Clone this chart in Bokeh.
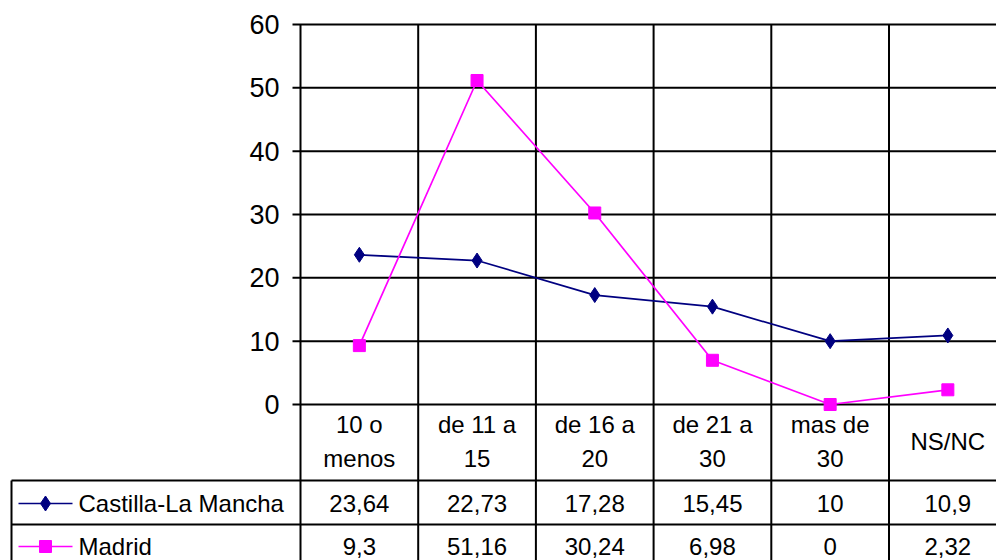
from bokeh.plotting import figure
from bokeh.models import Range1d
from bokeh.core.properties import value
from bokeh.embed import file_html
from bokeh.resources import INLINE

categories = ["10 o\nmenos", "de 11 a\n15", "de 16 a\n20", "de 21 a\n30", "mas de\n30", "NS/NC"]
series_names = ["Castilla-La Mancha", "Madrid"]
castilla = [23.64, 22.73, 17.28, 15.45, 10, 10.9]
madrid = [9.3, 51.16, 30.24, 6.98, 0, 2.32]
y_ticks = [0, 10, 20, 30, 40, 50, 60]
colors = ["#000080", "#FF00FF"]

FONT = value("Liberation Sans")
W, H = 996, 560
PX_X = 117.7     # pixels per category
PX_Y = 380 / 60  # pixels per unit
X0 = 300         # pixel of category axis start
Y0 = 404         # pixel of value 0

n = len(categories)
p = figure(width=W, height=H, output_backend="svg", toolbar_location=None,
           x_range=Range1d(-X0 / PX_X, (W - X0) / PX_X),
           y_range=Range1d(-(H - Y0) / PX_Y, Y0 / PX_Y),
           min_border=0, outline_line_color=None)
p.axis.visible = False
p.grid.visible = False
p.background_fill_color = "white"

def fmt(v):
    return ("%g" % v).replace(".", ",")

# table geometry (data units)
hdr_bottom = -(480 - Y0) / PX_Y
row1_bottom = -(524 - Y0) / PX_Y
row2_bottom = -(569 - Y0) / PX_Y
legend_left = -(X0 - 11) / PX_X
tick_len = 8 / PX_X

LW = 2
# horizontal grid lines with ticks
p.segment(x0=[-tick_len] * len(y_ticks), x1=[n] * len(y_ticks), y0=y_ticks, y1=y_ticks,
          line_color="black", line_width=LW)
# vertical lines
xs = list(range(n + 1))
p.segment(x0=xs, x1=xs, y0=[60] * len(xs), y1=[row2_bottom] * len(xs), line_color="black", line_width=LW)
# table rows
for yy in [hdr_bottom, row1_bottom, row2_bottom]:
    p.segment(x0=[legend_left], x1=[n], y0=[yy], y1=[yy], line_color="black", line_width=LW)
p.segment(x0=[legend_left], x1=[legend_left], y0=[hdr_bottom], y1=[row2_bottom], line_color="black", line_width=LW)

# y tick labels
p.text(x=[-21 / PX_X] * len(y_ticks), y=y_ticks, text=[str(t) for t in y_ticks],
       text_font=FONT, text_font_size="27px", text_align="right", text_baseline="middle",
       text_color="black")

# data lines
cx = [i + 0.5 for i in range(n)]
p.line(cx, castilla, line_color=colors[0], line_width=1.7)
p.scatter(cx, castilla, marker="diamond", size=15, fill_color=colors[0], line_color=colors[0])
p.line(cx, madrid, line_color=colors[1], line_width=1.7)
p.scatter(cx, madrid, marker="square", size=12, fill_color=colors[1], line_color=colors[1])

TS = "24px"
# header labels
p.text(x=cx, y=[hdr_bottom / 2 + 0.2] * n, text=categories, text_font=FONT, text_font_size=TS,
       text_align="center", text_baseline="middle", text_color="black", text_line_height=1.25)

# value rows
row_y = [-(503 - Y0) / PX_Y, -(546 - Y0) / PX_Y]
p.text(x=cx, y=[row_y[0]] * n, text=[fmt(v) for v in castilla],
       text_font=FONT, text_font_size=TS, text_align="center", text_baseline="middle")
p.text(x=cx, y=[row_y[1]] * n, text=[fmt(v) for v in madrid],
       text_font=FONT, text_font_size=TS, text_align="center", text_baseline="middle")

# legend cells
lx0 = legend_left + 7 / PX_X
lx1 = legend_left + 61 / PX_X
for i, (nm, col, mk, sz) in enumerate(zip(series_names, colors, ["diamond", "square"], [15, 12])):
    p.line([lx0, lx1], [row_y[i], row_y[i]], line_color=col, line_width=1.7)
    p.scatter([(lx0 + lx1) / 2], [row_y[i]], marker=mk, size=sz, fill_color=col, line_color=col)
    p.text(x=[legend_left + 67 / PX_X], y=[row_y[i]], text=[nm], text_font=FONT, text_font_size=TS,
           text_align="left", text_baseline="middle", text_color="black")

open("out.html", "w").write(file_html(p, INLINE))
